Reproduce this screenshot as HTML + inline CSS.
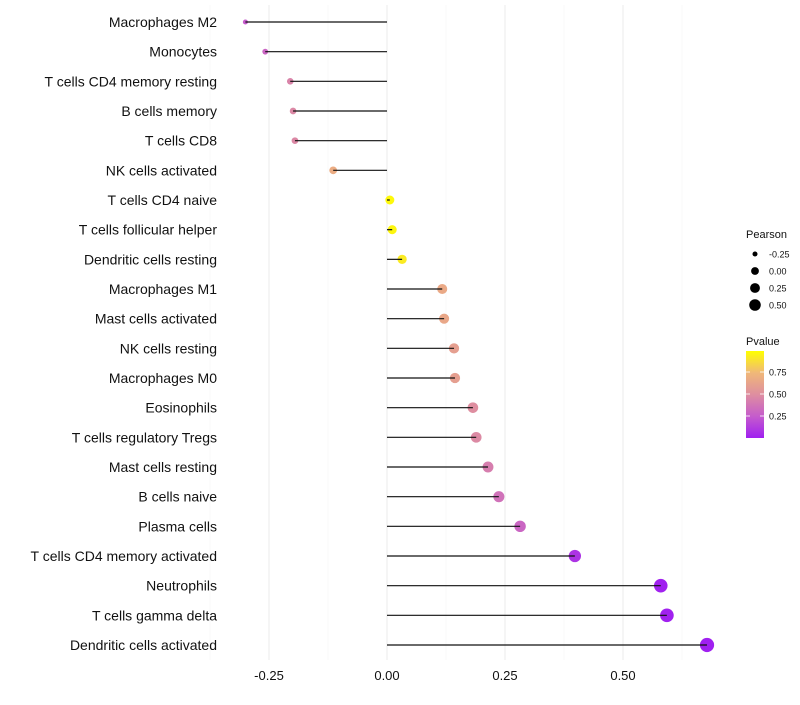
<!DOCTYPE html>
<html><head><meta charset="utf-8"><style>
body{margin:0;background:#fff;font-family:"Liberation Sans",sans-serif}
</style></head><body>
<svg id="chart" width="800" height="700" xmlns="http://www.w3.org/2000/svg"></svg>
<script>
const categories=["Macrophages M2","Monocytes","T cells CD4 memory resting","B cells memory","T cells CD8","NK cells activated","T cells CD4 naive","T cells follicular helper","Dendritic cells resting","Macrophages M1","Mast cells activated","NK cells resting","Macrophages M0","Eosinophils","T cells regulatory  Tregs ","Mast cells resting","B cells naive","Plasma cells","T cells CD4 memory activated","Neutrophils","T cells gamma delta","Dendritic cells activated"];
const pearson=[-0.30,-0.258,-0.205,-0.199,-0.195,-0.114,0.006,0.011,0.032,0.117,0.121,0.142,0.144,0.182,0.189,0.214,0.237,0.282,0.398,0.58,0.593,0.678];
const pvalues=[0.25,0.3,0.45,0.47,0.47,0.68,0.98,0.97,0.93,0.66,0.65,0.6,0.6,0.5,0.48,0.42,0.36,0.3,0.08,0.006,0.004,0.001];
const xTicks=[-0.25,0,0.25,0.5];
const xTickLabels=["-0.25","0.00","0.25","0.50"];
const sizeLegend=[-0.25,0,0.25,0.5];
const colorTicks=[0.25,0.5,0.75];

const NS="http://www.w3.org/2000/svg";
const svg=document.getElementById('chart');
function mk(t,a,p){const e=document.createElementNS(NS,t);for(const k in a)e.setAttribute(k,a[k]);(p||svg).appendChild(e);return e;}
const x=v=>387+v*472;
const y=i=>22+i*(623/21);
const r=v=>Math.sqrt(Math.max(5,20+45*v));
const stops=[[0,[160,32,240]],[0.25,[197,92,204]],[0.5,[222,142,160]],[0.75,[240,184,120]],[1,[255,255,0]]];
function col(p){for(let i=1;i<stops.length;i++){if(p<=stops[i][0]){const a=stops[i-1],b=stops[i],t=(p-a[0])/(b[0]-a[0]);return 'rgb('+a[1].map((c,j)=>Math.round(c+(b[1][j]-c)*t)).join(',')+')';}}return 'rgb(255,255,0)';}

[-0.375,-0.125,0.125,0.375,0.625].forEach(v=>{const g=mk('line',{x1:x(v),x2:x(v),y1:5,y2:660,stroke:'#f3f3f3','stroke-width':0.6});});
xTicks.forEach((v,i)=>{const g=mk('line',{x1:x(v),x2:x(v),y1:5,y2:660,stroke:'#ebebeb','stroke-width':1});
const t=mk('text',{x:x(v),y:680,'text-anchor':'middle','font-size':13,fill:'#111'});t.textContent=xTickLabels[i];});

categories.forEach((c,i)=>{
const t=mk('text',{x:217,y:y(i)+5,'text-anchor':'end','font-size':14,fill:'#111'});t.textContent=c;
const d=mk('circle',{cx:x(pearson[i]),cy:y(i),r:r(pearson[i]),fill:col(pvalues[i])});
const s=mk('line',{x1:x(0),x2:x(pearson[i]),y1:y(i),y2:y(i),stroke:'#111','stroke-width':1.2});
});

let t=mk('text',{x:746,y:238,'font-size':11,fill:'#111'});t.textContent='Pearson';
sizeLegend.forEach((v,i)=>{const cy=254+i*17;const c=mk('circle',{cx:755,cy:cy,r:Math.sqrt(6.3+8*(v+0.25)*4.5),fill:'#000'});
const l=mk('text',{x:769,y:cy+3.5,'font-size':9,fill:'#111'});l.textContent=['-0.25','0.00','0.25','0.50'][i];});
t=mk('text',{x:746,y:345,'font-size':11,fill:'#111'});t.textContent='Pvalue';
const defs=mk('defs',{});const lg=mk('linearGradient',{id:'pg',x1:0,y1:1,x2:0,y2:0},defs);
stops.forEach(s=>mk('stop',{offset:s[0],'stop-color':col(s[0])},lg));
const bar=mk('rect',{x:746,y:351,width:18,height:87,fill:'url(#pg)'});
colorTicks.forEach(v=>{const yy=438-v*88;mk('line',{x1:746,x2:750,y1:yy,y2:yy,stroke:'#fff','stroke-width':0.8});mk('line',{x1:760,x2:764,y1:yy,y2:yy,stroke:'#fff','stroke-width':0.8});
const l=mk('text',{x:769,y:yy+3.5,'font-size':9,fill:'#111'});l.textContent=v.toFixed(2);});
</script>
</body></html>
